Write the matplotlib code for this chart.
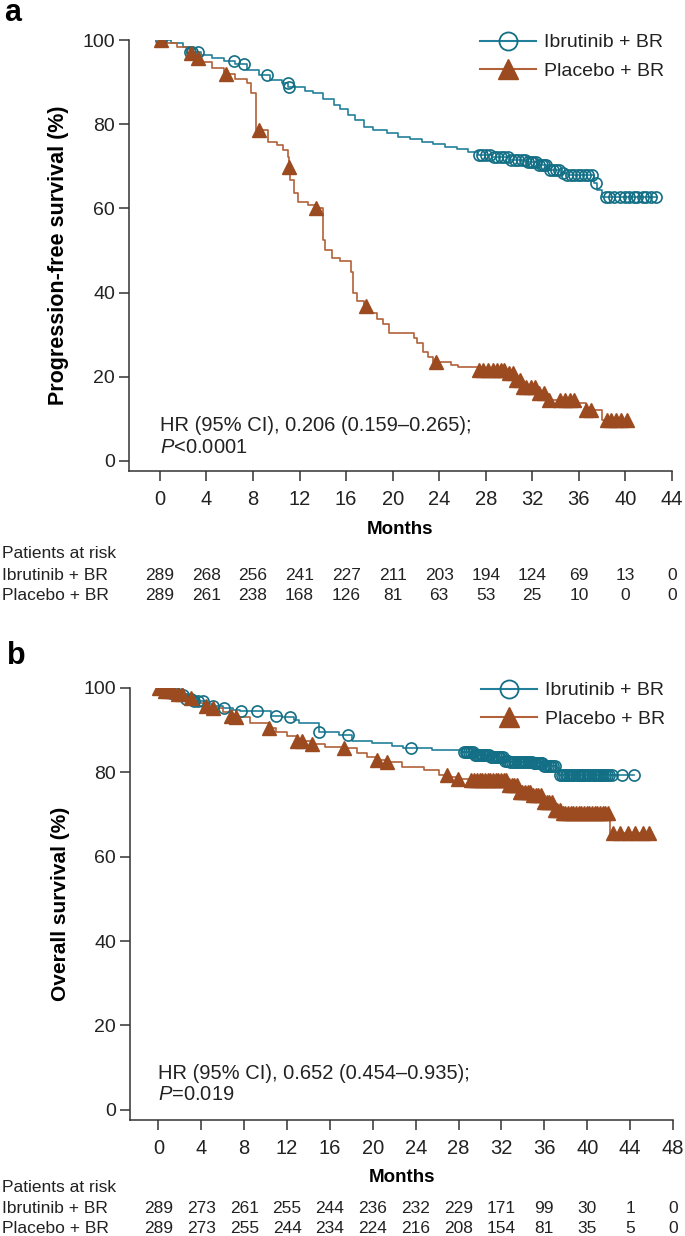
import numpy as np
import matplotlib.pyplot as plt
from matplotlib.lines import Line2D
from matplotlib.transforms import blended_transform_factory

plt.rcParams['font.family'] = ['Liberation Sans', 'DejaVu Sans']
plt.rcParams['mathtext.fontset'] = 'custom'
plt.rcParams['mathtext.rm'] = 'Liberation Sans'
plt.rcParams['mathtext.it'] = 'Liberation Sans:italic'

TEAL = '#136F85'
TEAL_LINE = '#23809A'
BROWN = '#9C4A1F'
BROWN_LINE = '#B2613A'

# ---- panel a: progression-free survival ----
pfs_ibr_t = [0, 1.0, 2.0, 2.6, 3.5, 4.5, 5.5, 6.5, 7.5, 8.5, 9.5, 10.5, 11.05, 12.5, 13.2,
             14.0, 15.0, 15.5, 16.2, 16.8, 17.5, 18.3, 19.5, 20.5, 21.5, 22.5, 23.5, 24.5,
             25.5, 26.5, 27.3, 28.5, 30.0, 31.5, 32.4, 33.3, 34.5, 35.0, 37.3, 37.6, 38.0]
pfs_ibr_s = [100, 99.3, 98.3, 97.2, 96.5, 95.8, 95.0, 94.2, 93.0, 91.8, 90.6, 89.8, 88.9, 88.0,
             87.4, 86.0, 84.5, 83.6, 82.2, 81.0, 79.4, 78.6, 77.8, 77.0, 76.4, 75.8, 75.2,
             74.6, 74.0, 73.4, 72.8, 72.2, 71.6, 71.0, 70.3, 69.1, 68.4, 67.9, 66.0, 64.4, 62.7]
pfs_ibr_end = 42.7
pfs_ibr_cens = [0.1, 2.6, 2.8, 3.3, 6.4, 7.2, 9.2, 11.0, 11.1, 27.4, 27.7, 28.0, 28.4, 28.7,
                29.0, 29.3, 29.6, 29.9, 30.2, 30.5, 30.8, 31.1, 31.4, 31.6, 31.9, 32.1, 32.3,
                32.6, 32.8, 33.0, 33.2, 33.5, 33.8, 34.0, 34.3, 34.6, 35.0, 35.3, 35.6, 35.9,
                36.2, 36.5, 36.8, 37.1, 37.5, 38.3, 38.6, 39.0, 39.5, 40.0, 40.3, 40.7, 41.0,
                41.5, 41.8, 42.2, 42.6]

pfs_pbo_t = [0, 0.5, 1.5, 2.3, 3.0, 3.5, 4.5, 5.5, 6.5, 7.5, 7.8, 8.3, 9.3, 10.1, 10.6, 11.0,
             11.1, 11.2, 11.5, 11.9, 12.7, 13.3, 14.0, 14.2, 14.8, 15.5, 16.4, 16.6, 16.9, 17.5,
             18.0, 18.7, 19.2, 19.7, 21.8, 22.1, 22.6, 23.0, 23.5, 25.0, 25.6, 27.3, 29.8, 30.4,
             31.2, 32.4, 33.3, 35.8, 36.6, 38.0]
pfs_pbo_s = [100, 99.3, 98.3, 96.9, 95.7, 94.8, 93.4, 92.0, 90.7, 89.8, 87.4, 78.6, 75.8, 75.0,
             73.9, 72.2, 69.8, 66.7, 63.7, 61.5, 60.8, 60.1, 52.5, 50.1, 48.2, 47.6, 45.0, 40.0,
             38.0, 36.8, 35.2, 33.8, 32.5, 30.4, 29.2, 28.0, 26.0, 24.7, 23.5, 22.8, 22.3, 21.6,
             20.9, 19.2, 17.6, 16.2, 14.5, 13.8, 12.1, 9.7]
pfs_pbo_end = 40.3
pfs_pbo_cens = [0.1, 2.7, 3.3, 5.7, 8.5, 11.1, 13.4, 17.7, 23.7, 27.4, 27.8, 28.2, 28.6, 29.0,
                29.3, 29.6, 30.0, 30.3, 30.6, 30.9, 31.2, 31.5, 31.9, 32.2, 32.6, 33.0, 33.4,
                34.4, 34.8, 35.2, 35.6, 36.6, 37.0, 38.4, 38.8, 39.2, 39.6, 40.1]

risk_months_a = [0, 4, 8, 12, 16, 20, 24, 28, 32, 36, 40, 44]
risk_ibr_a = [289, 268, 256, 241, 227, 211, 203, 194, 124, 69, 13, 0]
risk_pbo_a = [289, 261, 238, 168, 126, 81, 63, 53, 25, 10, 0, 0]

# ---- panel b: overall survival ----
os_ibr_t = [0, 0.5, 1.0, 1.8, 2.5, 3.2, 4.5, 5.0, 6.0, 7.0, 7.6, 10.5, 11.5, 12.6, 13.1, 15.0,
            16.8, 18.1, 19.9, 21.8, 22.8, 25.5, 28.3, 29.5, 31.0, 32.2, 32.7, 34.9, 36.0,
            37.1, 37.4]
os_ibr_s = [100, 99.3, 98.8, 98.3, 97.4, 96.9, 96.2, 95.7, 95.3, 94.7, 94.5, 93.4, 93.1, 92.5,
            91.7, 89.6, 88.9, 87.4, 87.0, 86.3, 85.8, 85.3, 84.8, 84.1, 83.6, 82.8, 82.5, 82.2,
            81.6, 81.0, 79.4]
os_ibr_end = 44.4
os_ibr_cens = [0.3, 0.8, 1.2, 1.6, 1.9, 2.3, 2.6, 3.0, 3.3, 3.7, 4.2, 5.1, 6.1, 7.7, 9.2, 11.0,
               12.3, 15.0, 17.7, 23.6, 28.5, 28.65, 28.8, 29.0, 29.15, 29.3, 29.5, 29.65, 29.8,
               30.0, 30.15, 30.3, 30.5, 30.65, 30.8, 31.0, 31.15, 31.3, 31.5, 31.65, 31.8,
               32.0, 32.15, 32.3, 32.5, 32.65, 32.8, 33.0, 33.15, 33.3, 33.5, 33.65, 33.8,
               34.0, 34.15, 34.3, 34.5, 34.65, 34.8, 35.0, 35.15, 35.3, 35.5, 35.65, 35.8,
               36.0, 36.15, 36.3, 36.5, 36.65, 36.8, 37.0, 37.5, 37.65, 37.8, 38.0, 38.15,
               38.3, 38.5, 38.65, 38.8, 39.0, 39.15, 39.3, 39.5, 39.65, 39.8, 40.0, 40.15,
               40.3, 40.5, 40.65, 40.8, 41.0, 41.15, 41.3, 41.5, 41.65, 41.8, 42.0, 42.3,
               43.2, 44.4]

os_pbo_t = [0, 0.5, 1.5, 2.3, 3.0, 3.8, 4.4, 5.1, 6.0, 6.8, 7.2, 8.5, 10.3, 11.0, 12.0, 12.9,
            14.3, 15.5, 17.3, 18.5, 19.5, 20.4, 21.3, 22.7, 24.8, 26.2, 27.0, 27.9, 29.2, 32.7,
            33.7, 34.9, 35.8, 36.8, 37.5, 42.1]
os_pbo_s = [100, 99.3, 98.6, 97.9, 97.6, 96.5, 95.7, 95.3, 94.3, 93.4, 93.0, 91.8, 90.5, 89.6,
            88.5, 87.4, 86.7, 86.0, 85.8, 84.5, 83.6, 83.0, 82.5, 81.3, 80.6, 79.4, 78.9, 78.4,
            78.2, 77.0, 75.4, 74.6, 73.0, 71.1, 70.4, 65.6]
os_pbo_end = 46.0
os_pbo_cens = [0.1, 0.6, 1.0, 1.4, 1.8, 2.2, 3.0, 4.4, 5.1, 6.8, 7.2, 10.3, 12.9, 13.4, 14.3,
               17.3, 20.4, 21.3, 26.9, 27.9, 29.2, 29.45, 29.7, 29.95, 30.2, 30.45, 30.7,
               30.95, 31.2, 31.45, 31.7, 31.95, 32.2, 32.45, 32.7, 32.95, 33.2, 33.45, 33.7,
               33.95, 34.2, 34.45, 34.7, 34.95, 35.2, 35.45, 35.7, 35.95, 36.2, 36.45, 36.7,
               36.95, 37.2, 37.45, 37.7, 37.95, 38.2, 38.45, 38.7, 38.95, 39.2, 39.45, 39.7,
               39.95, 40.2, 40.45, 40.7, 40.95, 41.2, 41.45, 41.7, 41.95, 42.4, 43.1, 43.8,
               44.5, 45.2, 45.8]

risk_months_b = [0, 4, 8, 12, 16, 20, 24, 28, 32, 36, 40, 44, 48]
risk_ibr_b = [289, 273, 261, 255, 244, 236, 232, 229, 171, 99, 30, 1, 0]
risk_pbo_b = [289, 273, 255, 244, 234, 224, 216, 208, 154, 81, 35, 5, 0]


def km(ax, t, s, end, cens, line_color, mk_color, marker, filled):
    t = np.array(t + [end])
    s = np.array(s + [s[-1]])
    ax.plot(t, s, drawstyle='steps-post', color=line_color, lw=1.2, zorder=2)
    c = np.array(cens)
    idx = np.searchsorted(t, c, side='right') - 1
    if filled:
        ax.plot(c, s[idx], ls='none', marker=marker, ms=10, color=mk_color, mec=mk_color, zorder=3)
    else:
        ax.plot(c, s[idx], ls='none', marker=marker, ms=8, mfc='none', mec=mk_color,
                mew=1.2, zorder=3)


def style_axis(ax, xmax, ylabel, ylabel_size):
    ax.set_xlim(-2.65, xmax)
    ax.set_ylim(-2.4, 100)
    ax.set_xticks(np.arange(0, xmax + 1, 4))
    ax.set_yticks([0, 20, 40, 60, 80, 100])
    for side in ['top', 'right']:
        ax.spines[side].set_visible(False)
    for side in ['left', 'bottom']:
        ax.spines[side].set_color('#333333')
        ax.spines[side].set_linewidth(1.1)
    ax.tick_params(axis='both', length=7, width=1.1, color='#333333', labelcolor='#222222')
    ax.tick_params(axis='x', labelsize=14.5, pad=7)
    ax.tick_params(axis='y', labelsize=14, pad=3)
    ax.set_xlabel('Months', fontsize=13.5, fontweight='bold', labelpad=8)
    ax.set_ylabel(ylabel, fontsize=ylabel_size, fontweight='bold', labelpad=10)
    handles = [Line2D([], [], color=TEAL_LINE, marker='o', ms=13, mfc='none', mec=TEAL, mew=1.3),
               Line2D([], [], color=BROWN_LINE, marker='^', ms=14, mfc=BROWN, mec=BROWN)]
    ax.legend(handles, ['Ibrutinib + BR', 'Placebo + BR'], loc='upper right',
              bbox_to_anchor=(1.018, 1.055), frameon=False, fontsize=14, handlelength=2.9,
              handletextpad=0.4, labelspacing=0.55, labelcolor='#222222')


def risk_table(fig, ax, months, ibr, pbo, y0):
    tr = blended_transform_factory(ax.transData, fig.transFigure)
    fig.text(0.003, y0, 'Patients at risk', fontsize=12.5, color='#222222', va='center')
    fig.text(0.003, y0 - 0.0172, 'Ibrutinib + BR', fontsize=12.5, color='#222222', va='center')
    fig.text(0.003, y0 - 0.0334, 'Placebo + BR', fontsize=12.5, color='#222222', va='center')
    for m, a, b in zip(months, ibr, pbo):
        ax.text(m, y0 - 0.0172, str(a), transform=tr, ha='center', va='center',
                fontsize=12.5, color='#222222')
        ax.text(m, y0 - 0.0334, str(b), transform=tr, ha='center', va='center',
                fontsize=12.5, color='#222222')


fig = plt.figure(figsize=(6.85, 12.36), dpi=100)
ax1 = fig.add_axes([0.1883, 0.6189, 0.7927, 0.3487])
ax2 = fig.add_axes([0.1898, 0.0939, 0.7927, 0.3495])

km(ax1, pfs_ibr_t, pfs_ibr_s, pfs_ibr_end, pfs_ibr_cens, TEAL_LINE, TEAL, 'o', False)
km(ax1, pfs_pbo_t, pfs_pbo_s, pfs_pbo_end, pfs_pbo_cens, BROWN_LINE, BROWN, '^', True)
style_axis(ax1, 44, 'Progression-free survival (%)', 15.5)
ax1.text(0, 8.5, 'HR (95% CI), 0.206 (0.159\u20130.265);', fontsize=14.5, color='#222222',
         va='center')
ax1.text(0, 3.3, '$P$<0.0001', fontsize=14.5, color='#222222', va='center')

km(ax2, os_ibr_t, os_ibr_s, os_ibr_end, os_ibr_cens, TEAL_LINE, TEAL, 'o', False)
km(ax2, os_pbo_t, os_pbo_s, os_pbo_end, os_pbo_cens, BROWN_LINE, BROWN, '^', True)
style_axis(ax2, 48, 'Overall survival (%)', 15)
ax2.text(0, 8.7, 'HR (95% CI), 0.652 (0.454\u20130.935);', fontsize=14.5, color='#222222',
         va='center')
ax2.text(0, 3.6, '$P$=0.019', fontsize=14.5, color='#222222', va='center')

risk_table(fig, ax1, risk_months_a, risk_ibr_a, risk_pbo_a, 1 - 554 / 1236)
risk_table(fig, ax2, risk_months_b, risk_ibr_b, risk_pbo_b, 1 - 1187 / 1236)

fig.text(0.006, 1 - 21 / 1236, 'a', fontsize=22, fontweight='bold', va='baseline')
fig.text(0.010, 1 - 664 / 1236, 'b', fontsize=22, fontweight='bold', va='baseline')

fig.savefig('out.png', dpi=100)
